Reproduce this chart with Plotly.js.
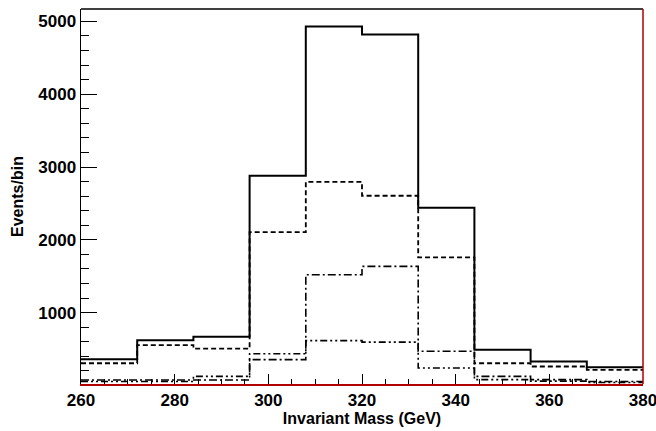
<!DOCTYPE html>
<html>
<head>
<meta charset="utf-8">
<script src="https://cdn.plot.ly/plotly-3.0.1.min.js"></script>
<style>html,body{margin:0;padding:0;background:#fff;}#chart{width:656px;height:431px;}</style>
</head>
<body>
<div id="chart"></div>
<script>
// Bin edges (GeV)
const binEdges = [260, 272, 284, 296, 308, 320, 332, 344, 356, 368, 380];
// Series values (events per bin)
const solidTotal   = [360, 620, 670, 2880, 4930, 4820, 2440, 490, 330, 250];
const dashedSeries = [305, 555, 505, 2105, 2795, 2605, 1760, 305, 260, 215];
const dashDotSeries = [75, 75, 75, 355, 1520, 1635, 470, 125, 80, 55];
const dashDotDotSeries = [55, 55, 125, 435, 615, 595, 240, 80, 60, 40];

const xTitle = 'Invariant Mass (GeV)';
const yTitle = 'Events/bin';

function stepTrace(vals, dash, width) {
  return {
    x: binEdges,
    y: vals.concat([vals[vals.length - 1]]),
    type: 'scatter',
    mode: 'lines',
    line: {shape: 'hv', color: '#000', width: width, dash: dash},
    hoverinfo: 'skip',
    showlegend: false
  };
}

const data = [
  stepTrace(dashDotDotSeries, '7px,3px,2px,3px,2px,3px', 1.6),
  stepTrace(dashDotSeries, '8px,3px,2px,3px', 1.6),
  stepTrace(dashedSeries, '5px,3px', 1.8),
  stepTrace(solidTotal, 'solid', 2)
];

const tickFont = {family: 'Liberation Sans, Arial, sans-serif', size: 17, color: '#000', weight: 'bold'};
const red = '#b00000';

const layout = {
  width: 656, height: 431,
  margin: {l: 81, r: 13, t: 9, b: 47},
  paper_bgcolor: '#fff', plot_bgcolor: '#fff',
  xaxis: {
    range: [260, 380], dtick: 20, tick0: 260,
    ticks: 'inside', ticklen: 10, tickwidth: 1, tickcolor: '#000',
    minor: {dtick: 5, ticks: 'inside', ticklen: 5, tickcolor: '#000', showgrid: false},
    showgrid: false, zeroline: false,
    showline: true, linecolor: red, linewidth: 1.5,
    tickfont: tickFont,
    ticklabeloverflow: 'allow',
    title: {text: xTitle, font: {family: 'Liberation Sans, Arial, sans-serif', size: 16, color: '#000', weight: 'bold'}, standoff: 2}
  },
  yaxis: {
    range: [20, 5170], dtick: 1000, tick0: 0,
    ticks: 'inside', ticklen: 16, tickwidth: 1, tickcolor: '#000',
    minor: {dtick: 200, ticks: 'inside', ticklen: 8, tickcolor: '#000', showgrid: false},
    showgrid: false, zeroline: false,
    showline: true, linecolor: '#000', linewidth: 1.5,
    tickfont: tickFont,
    title: {text: yTitle, font: {family: 'Liberation Sans, Arial, sans-serif', size: 16, color: '#000', weight: 'bold'}, standoff: 10}
  },
  shapes: [
    {type: 'line', xref: 'paper', yref: 'paper', x0: 0, x1: 1, y0: 1, y1: 1, line: {color: '#000', width: 1.5}},
    {type: 'line', xref: 'paper', yref: 'paper', x0: 1, x1: 1, y0: 0, y1: 1, line: {color: red, width: 1.5}}
  ]
};

Plotly.newPlot('chart', data, layout, {displayModeBar: false, staticPlot: true});
</script>
</body>
</html>
